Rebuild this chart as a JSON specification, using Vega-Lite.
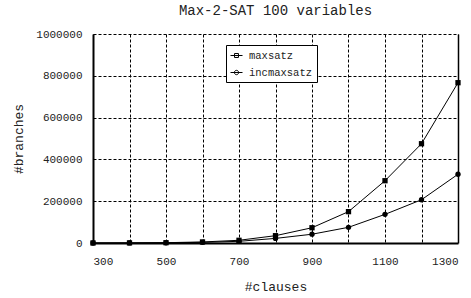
{
  "$schema": "https://vega.github.io/schema/vega-lite/v6.json",
  "autosize": "none",
  "width": 365,
  "height": 209,
  "padding": {"left": 93, "top": 34, "right": 13, "bottom": 55},
  "background": "white",
  "title": {"text": "Max-2-SAT 100 variables", "font": "Liberation Mono", "fontSize": 14, "fontWeight": "normal", "color": "#222", "offset": 10, "anchor": "middle"},
  "config": {
    "view": {"stroke": null},
    "font": "Liberation Mono"
  },
  "data": {"values": [
    {"clauses": 300, "branches": 100, "series": "maxsatz"},
    {"clauses": 400, "branches": 500, "series": "maxsatz"},
    {"clauses": 500, "branches": 1500, "series": "maxsatz"},
    {"clauses": 600, "branches": 5000, "series": "maxsatz"},
    {"clauses": 700, "branches": 13000, "series": "maxsatz"},
    {"clauses": 800, "branches": 35000, "series": "maxsatz"},
    {"clauses": 900, "branches": 73000, "series": "maxsatz"},
    {"clauses": 1000, "branches": 150000, "series": "maxsatz"},
    {"clauses": 1100, "branches": 298000, "series": "maxsatz"},
    {"clauses": 1200, "branches": 475000, "series": "maxsatz"},
    {"clauses": 1300, "branches": 767000, "series": "maxsatz"},
    {"clauses": 300, "branches": 50, "series": "incmaxsatz"},
    {"clauses": 400, "branches": 300, "series": "incmaxsatz"},
    {"clauses": 500, "branches": 1000, "series": "incmaxsatz"},
    {"clauses": 600, "branches": 3000, "series": "incmaxsatz"},
    {"clauses": 700, "branches": 8000, "series": "incmaxsatz"},
    {"clauses": 800, "branches": 22000, "series": "incmaxsatz"},
    {"clauses": 900, "branches": 42000, "series": "incmaxsatz"},
    {"clauses": 1000, "branches": 75000, "series": "incmaxsatz"},
    {"clauses": 1100, "branches": 137000, "series": "incmaxsatz"},
    {"clauses": 1200, "branches": 207000, "series": "incmaxsatz"},
    {"clauses": 1300, "branches": 329000, "series": "incmaxsatz"}
  ]},
  "resolve": {"axis": {"y": "independent"}, "scale": {"shape": "independent"}},
  "layer": [
    {
      "mark": {"type": "line", "color": "black", "strokeWidth": 1},
      "encoding": {
        "x": {"field": "clauses", "type": "quantitative",
          "scale": {"domain": [300, 1300], "nice": false, "zero": false},
          "axis": {"values": [300,400,500,600,700,800,900,1000,1100,1200,1300], "tickCount": 30,
            "labelExpr": "(datum.value - 300) % 200 == 0 ? datum.label : ''",
            "format": "d", "title": "#clauses", "titleFont": "Liberation Mono", "titleFontSize": 13, "titleFontWeight": "normal", "titleColor": "#222", "titlePadding": 14,
            "labelFont": "Liberation Mono", "labelFontSize": 11, "labelColor": "#222", "labelPadding": 12,
            "ticks": false, "domainColor": "black", "domainWidth": 2,
            "grid": true, "gridColor": "black", "gridDash": [3, 2], "gridWidth": 1, "gridOpacity": 1}},
        "y": {"field": "branches", "type": "quantitative",
          "scale": {"domain": [0, 1000000], "nice": false},
          "axis": {"values": [0, 200000, 400000, 600000, 800000, 1000000], "tickCount": 20, "format": "d",
            "title": "#branches", "titleFont": "Liberation Mono", "titleFontSize": 13, "titleFontWeight": "normal", "titleColor": "#222", "titlePadding": 10,
            "labelFont": "Liberation Mono", "labelFontSize": 11, "labelColor": "#222", "labelPadding": 11,
            "ticks": false, "domainColor": "black", "domainWidth": 2,
            "grid": true, "gridColor": "black", "gridDash": [3, 2], "gridWidth": 1, "gridOpacity": 1}},
        "detail": {"field": "series", "type": "nominal"}
      }
    },
    {
      "mark": {"type": "point", "filled": true, "color": "black", "opacity": 1, "size": 28},
      "encoding": {
        "x": {"field": "clauses", "type": "quantitative"},
        "y": {"field": "branches", "type": "quantitative",
          "axis": {"orient": "right", "labels": false, "ticks": false, "title": null, "grid": false, "domainColor": "black", "domainWidth": 1.5}},
        "shape": {"field": "series", "type": "nominal",
          "scale": {"domain": ["maxsatz", "incmaxsatz"], "range": ["square", "circle"]},
          "legend": null}
      }
    },
    {
      "mark": {"type": "point", "filled": false, "color": "black", "opacity": 0, "size": 1},
      "encoding": {
        "x": {"field": "clauses", "type": "quantitative"},
        "y": {"field": "branches", "type": "quantitative", "axis": null},
        "shape": {"field": "series", "type": "nominal",
          "scale": {"domain": ["maxsatz", "incmaxsatz"], "range": ["M-1,0H1M-0.33,-0.33H0.33V0.33H-0.33Z", "M-1,0H1M0.36,0A0.36,0.36 0 1,1 -0.36,0A0.36,0.36 0 1,1 0.36,0Z"]},
          "legend": {"orient": "none", "legendX": 133, "legendY": 11, "title": null,
            "strokeColor": "black", "fillColor": "white", "padding": 4,
            "labelFont": "Liberation Mono", "labelFontSize": 10.5, "labelColor": "#222", "labelOffset": 6,
            "symbolSize": 144, "rowPadding": 5, "symbolOpacity": 1,
            "symbolFillColor": "black", "symbolStrokeColor": "black", "symbolStrokeWidth": 1,
            "encode": {"symbols": {"update": {"fill": {"value": "black"}, "stroke": {"value": "black"}, "strokeWidth": {"value": 1}, "opacity": {"value": 1}}}}}}
      }
    }
  ]
}
